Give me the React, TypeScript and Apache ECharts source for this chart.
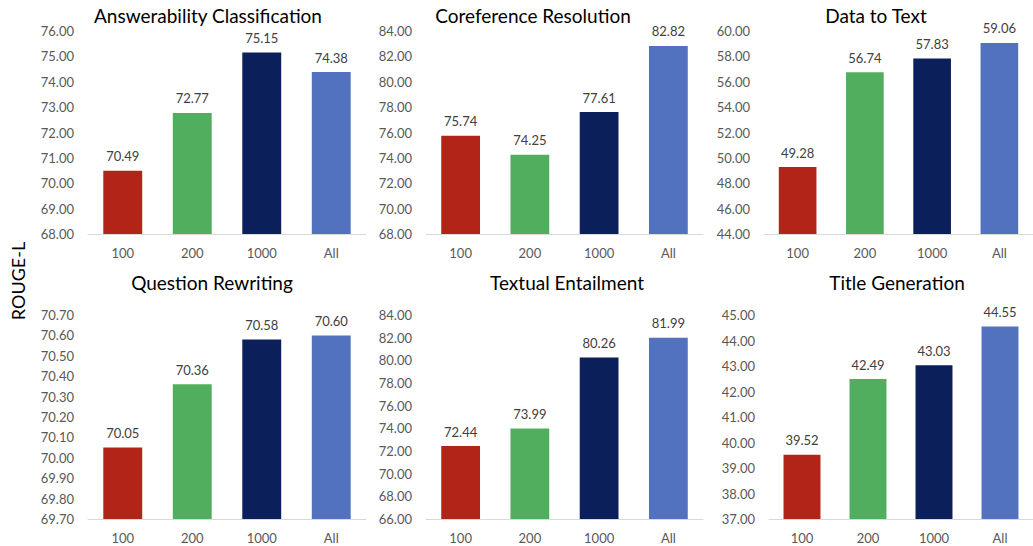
import React, { useEffect, useRef } from "react";
import * as echarts from "echarts";

const categories = ["100", "200", "1000", "All"];
const panelTitles = [
  "Answerability Classification",
  "Coreference Resolution",
  "Data to Text",
  "Question Rewriting",
  "Textual Entailment",
  "Title Generation",
];
const answerability = [70.49, 72.77, 75.15, 74.38];
const coreference = [75.74, 74.25, 77.61, 82.82];
const dataToText = [49.28, 56.74, 57.83, 59.06];
const questionRewriting = [70.05, 70.36, 70.58, 70.6];
const textualEntailment = [72.44, 73.99, 80.26, 81.99];
const titleGeneration = [39.52, 42.49, 43.03, 44.55];
const seriesValues = [answerability, coreference, dataToText, questionRewriting, textualEntailment, titleGeneration];
const yMins = [68, 68, 44, 69.7, 66, 37];
const yMaxs = [76, 84, 60, 70.7, 84, 45];
const yIntervals = [1, 2, 2, 0.1, 2, 1];
const barColors = ["#B22418", "#52AE5F", "#0B1F5B", "#5272C0"];
const yAxisName = "ROUGE-L";

// layout
const grids = [
  { left: 88, top: 31, width: 278, height: 203 },
  { left: 426, top: 31, width: 277, height: 203 },
  { left: 764, top: 31, width: 277, height: 203 },
  { left: 88, top: 315, width: 278, height: 204 },
  { left: 426, top: 315, width: 277, height: 204 },
  { left: 769, top: 315, width: 277, height: 204 },
];
const titlePos = [
  [208, 15],
  [533, 15],
  [876, 15],
  [212, 282],
  [567, 282],
  [897, 282],
];

const FONT = "Lato, 'Open Sans', sans-serif";

export default function App() {
  const ref = useRef<HTMLDivElement>(null);
  useEffect(() => {
    if (!ref.current) return;
    const chart = echarts.init(ref.current, null, { renderer: "svg" });
    const option: any = {
      animation: false,
      color: barColors,
      textStyle: { fontFamily: FONT },
      grid: grids.map((g) => ({ ...g, containLabel: false })),
      xAxis: grids.map((_, i) => ({
        type: "category",
        gridIndex: i,
        data: categories,
        axisLine: { show: true, lineStyle: { color: "#D9D9D9", width: 1 } },
        axisTick: { show: false },
        axisLabel: { color: "#595959", fontSize: 13, margin: 12, fontFamily: FONT },
        splitLine: { show: false },
      })),
      yAxis: grids.map((_, i) => ({
        type: "value",
        gridIndex: i,
        min: yMins[i],
        max: yMaxs[i],
        interval: yIntervals[i],
        axisLine: { show: false },
        axisTick: { show: false },
        splitLine: { show: false },
        axisLabel: {
          color: "#595959",
          fontSize: 13,
          margin: 14,
          fontFamily: FONT,
          formatter: (v: number) => v.toFixed(2),
        },
      })),
      series: seriesValues.map((vals, i) => ({
        type: "bar",
        xAxisIndex: i,
        yAxisIndex: i,
        data: vals,
        colorBy: "data",
        barWidth: "56%",
        label: {
          show: true,
          position: "top",
          distance: 8,
          color: "#404040",
          fontSize: 13,
          fontFamily: FONT,
          formatter: (p: any) => Number(p.value).toFixed(2),
        },
      })),
      graphic: [
        ...panelTitles.map((t, i) => ({
          type: "text",
          x: titlePos[i][0],
          y: titlePos[i][1],
          style: {
            text: t,
            fill: "#000000",
            font: `19px ${FONT}`,
            textAlign: "center",
            textVerticalAlign: "middle",
          },
        })),
        {
          type: "text",
          x: 18,
          y: 281,
          rotation: Math.PI / 2,
          style: {
            text: yAxisName,
            fill: "#000000",
            font: `18px ${FONT}`,
            textAlign: "center",
            textVerticalAlign: "middle",
          },
        },
      ],
    };
    chart.setOption(option);
    return () => chart.dispose();
  }, []);
  return (
    <div
      ref={ref}
      style={{ position: "absolute", left: 0, top: 0, width: 1033, height: 546, background: "#fff" }}
    />
  );
}
